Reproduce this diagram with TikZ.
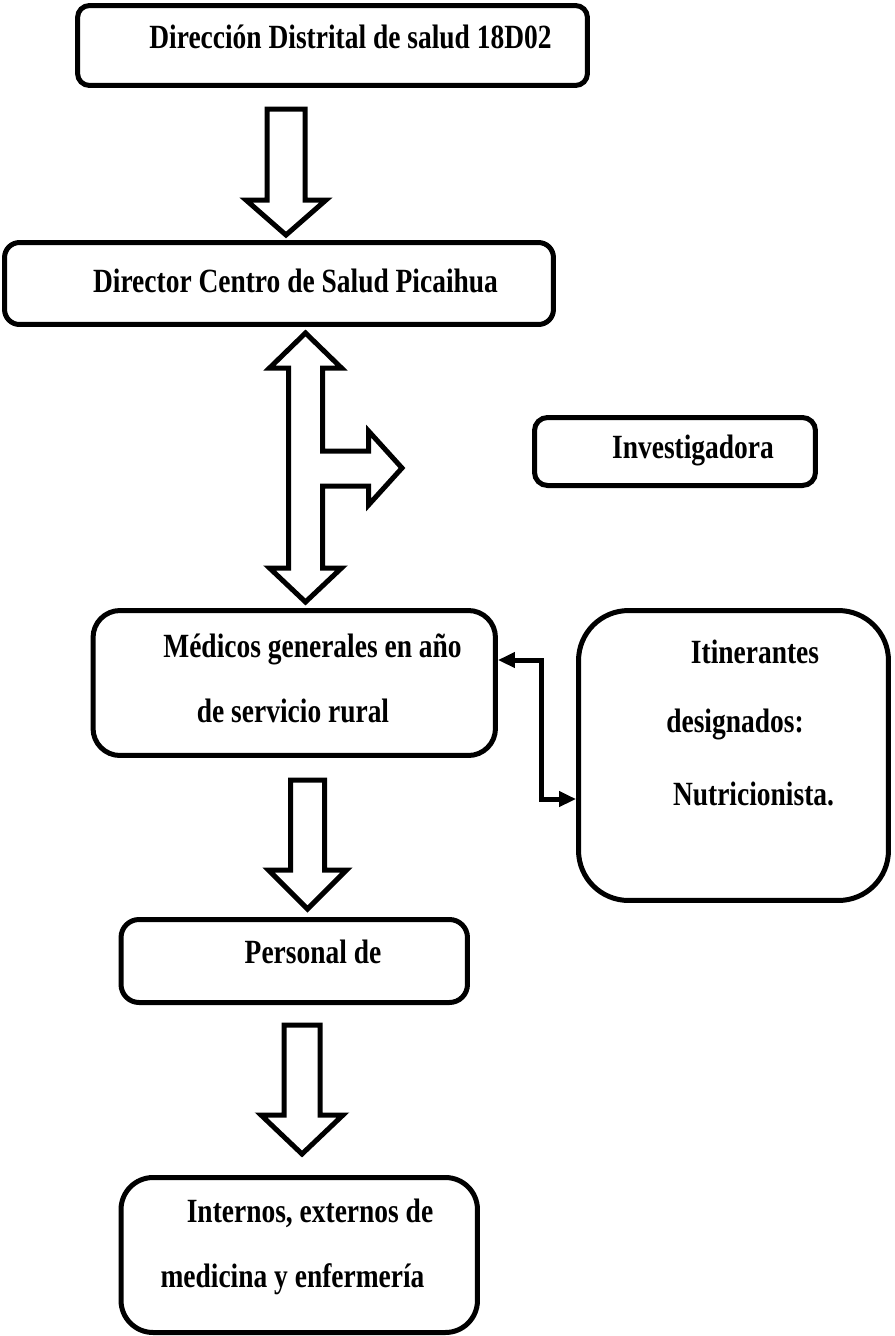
\documentclass[tikz,border=0pt]{standalone}
\usepackage{fontspec}
\newfontfamily\orgfont{Liberation Serif}[FakeStretch=0.81]
\usetikzlibrary{arrows.meta,calc}

\newcommand{\grosor}{0.1cm}
\tikzset{every path/.style={line width=\grosor},
  caja/.style={draw, rounded corners=#1, inner sep=0pt},
  texto/.style={inner sep=0pt, anchor=base, font=\orgfont\bfseries\fontsize{19.3}{23}\selectfont},
  flecha/.style={draw, line join=miter, fill=white},
  enlace/.style={{Triangle[length=0.34cm,width=0.3cm]}-{Triangle[length=0.34cm,width=0.3cm]}}}

\begin{document}
\begin{tikzpicture}[x=0.02cm,y=-0.02cm]
\useasboundingbox (0,0) rectangle (895,1336);

% cajas
\node[caja=0.24cm, minimum width=10.2cm, minimum height=1.6cm] (distrito) at (332.5,45.5) {};
\node[caja=0.3cm, minimum width=10.98cm, minimum height=1.64cm] (director) at (279,283.5) {};
\node[caja=0.26cm, minimum width=5.62cm, minimum height=1.36cm] (investigadora) at (675,451.5) {};
\node[caja=0.54cm, minimum width=8.05cm, minimum height=2.9cm] (medicos) at (294.25,683) {};
\node[caja=1cm, minimum width=6.2cm, minimum height=5.8cm] (itinerantes) at (733.5,755.5) {};
\node[caja=0.36cm, minimum width=6.93cm, minimum height=1.66cm] (personal) at (294.25,961) {};
\node[caja=0.64cm, minimum width=7.13cm, minimum height=3.1cm] (internos) at (299.25,1255) {};

% textos
\node[texto] (tdistrito) at (350.5,48) {Dirección Distrital de salud 18D02};
\node[texto] (tdirector) at (295.5,292) {Director Centro de Salud Picaihua};
\node[texto] (tinvestigadora) at (693,458) {Investigadora};
\node[texto] (tmedicosa) at (312.5,657) {Médicos generales en año};
\node[texto] (tmedicosb) at (293,722) {de servicio rural};
\node[texto] (titinerantesa) at (755,663) {Itinerantes};
\node[texto] (titinerantesb) at (735,732) {designados:};
\node[texto] (titinerantesc) at (753.5,805) {Nutricionista.};
\node[texto] (tpersonal) at (313,963) {Personal de};
\node[texto] (tinternosa) at (310,1222) {Internos, externos de};
\node[texto] (tinternosb) at (292.5,1287) {medicina y enfermería};

% flechas de bloque
\draw[flecha] (267,109) -- (305,109) -- (305,200) -- (326,200) -- (286,235) -- (246,200) -- (267,200) -- cycle;
\draw[flecha] (305.5,333) -- (341.5,368) -- (322.5,368) -- (322.5,451) -- (368.5,451) -- (368.5,431) -- (402,468)
  -- (368.5,505) -- (368.5,486) -- (322.5,486) -- (322.5,568) -- (341.5,568) -- (305.5,602) -- (269.5,568)
  -- (288.5,568) -- (288.5,368) -- (269.5,368) -- cycle;
\draw[flecha] (290.5,780) -- (324.5,780) -- (324.5,870) -- (346.5,870) -- (307.5,909) -- (268.5,870) -- (290.5,870) -- cycle;
\draw[flecha] (284,1025) -- (320,1025) -- (320,1115) -- (343,1115) -- (302,1154) -- (261,1115) -- (284,1115) -- cycle;

% enlace medicos - itinerantes
\draw[enlace] ($(medicos.east)+(0,-23)$) -- ++(44,0) |- ($(itinerantes.west)+(0,43.5)$);
\end{tikzpicture}
\end{document}
